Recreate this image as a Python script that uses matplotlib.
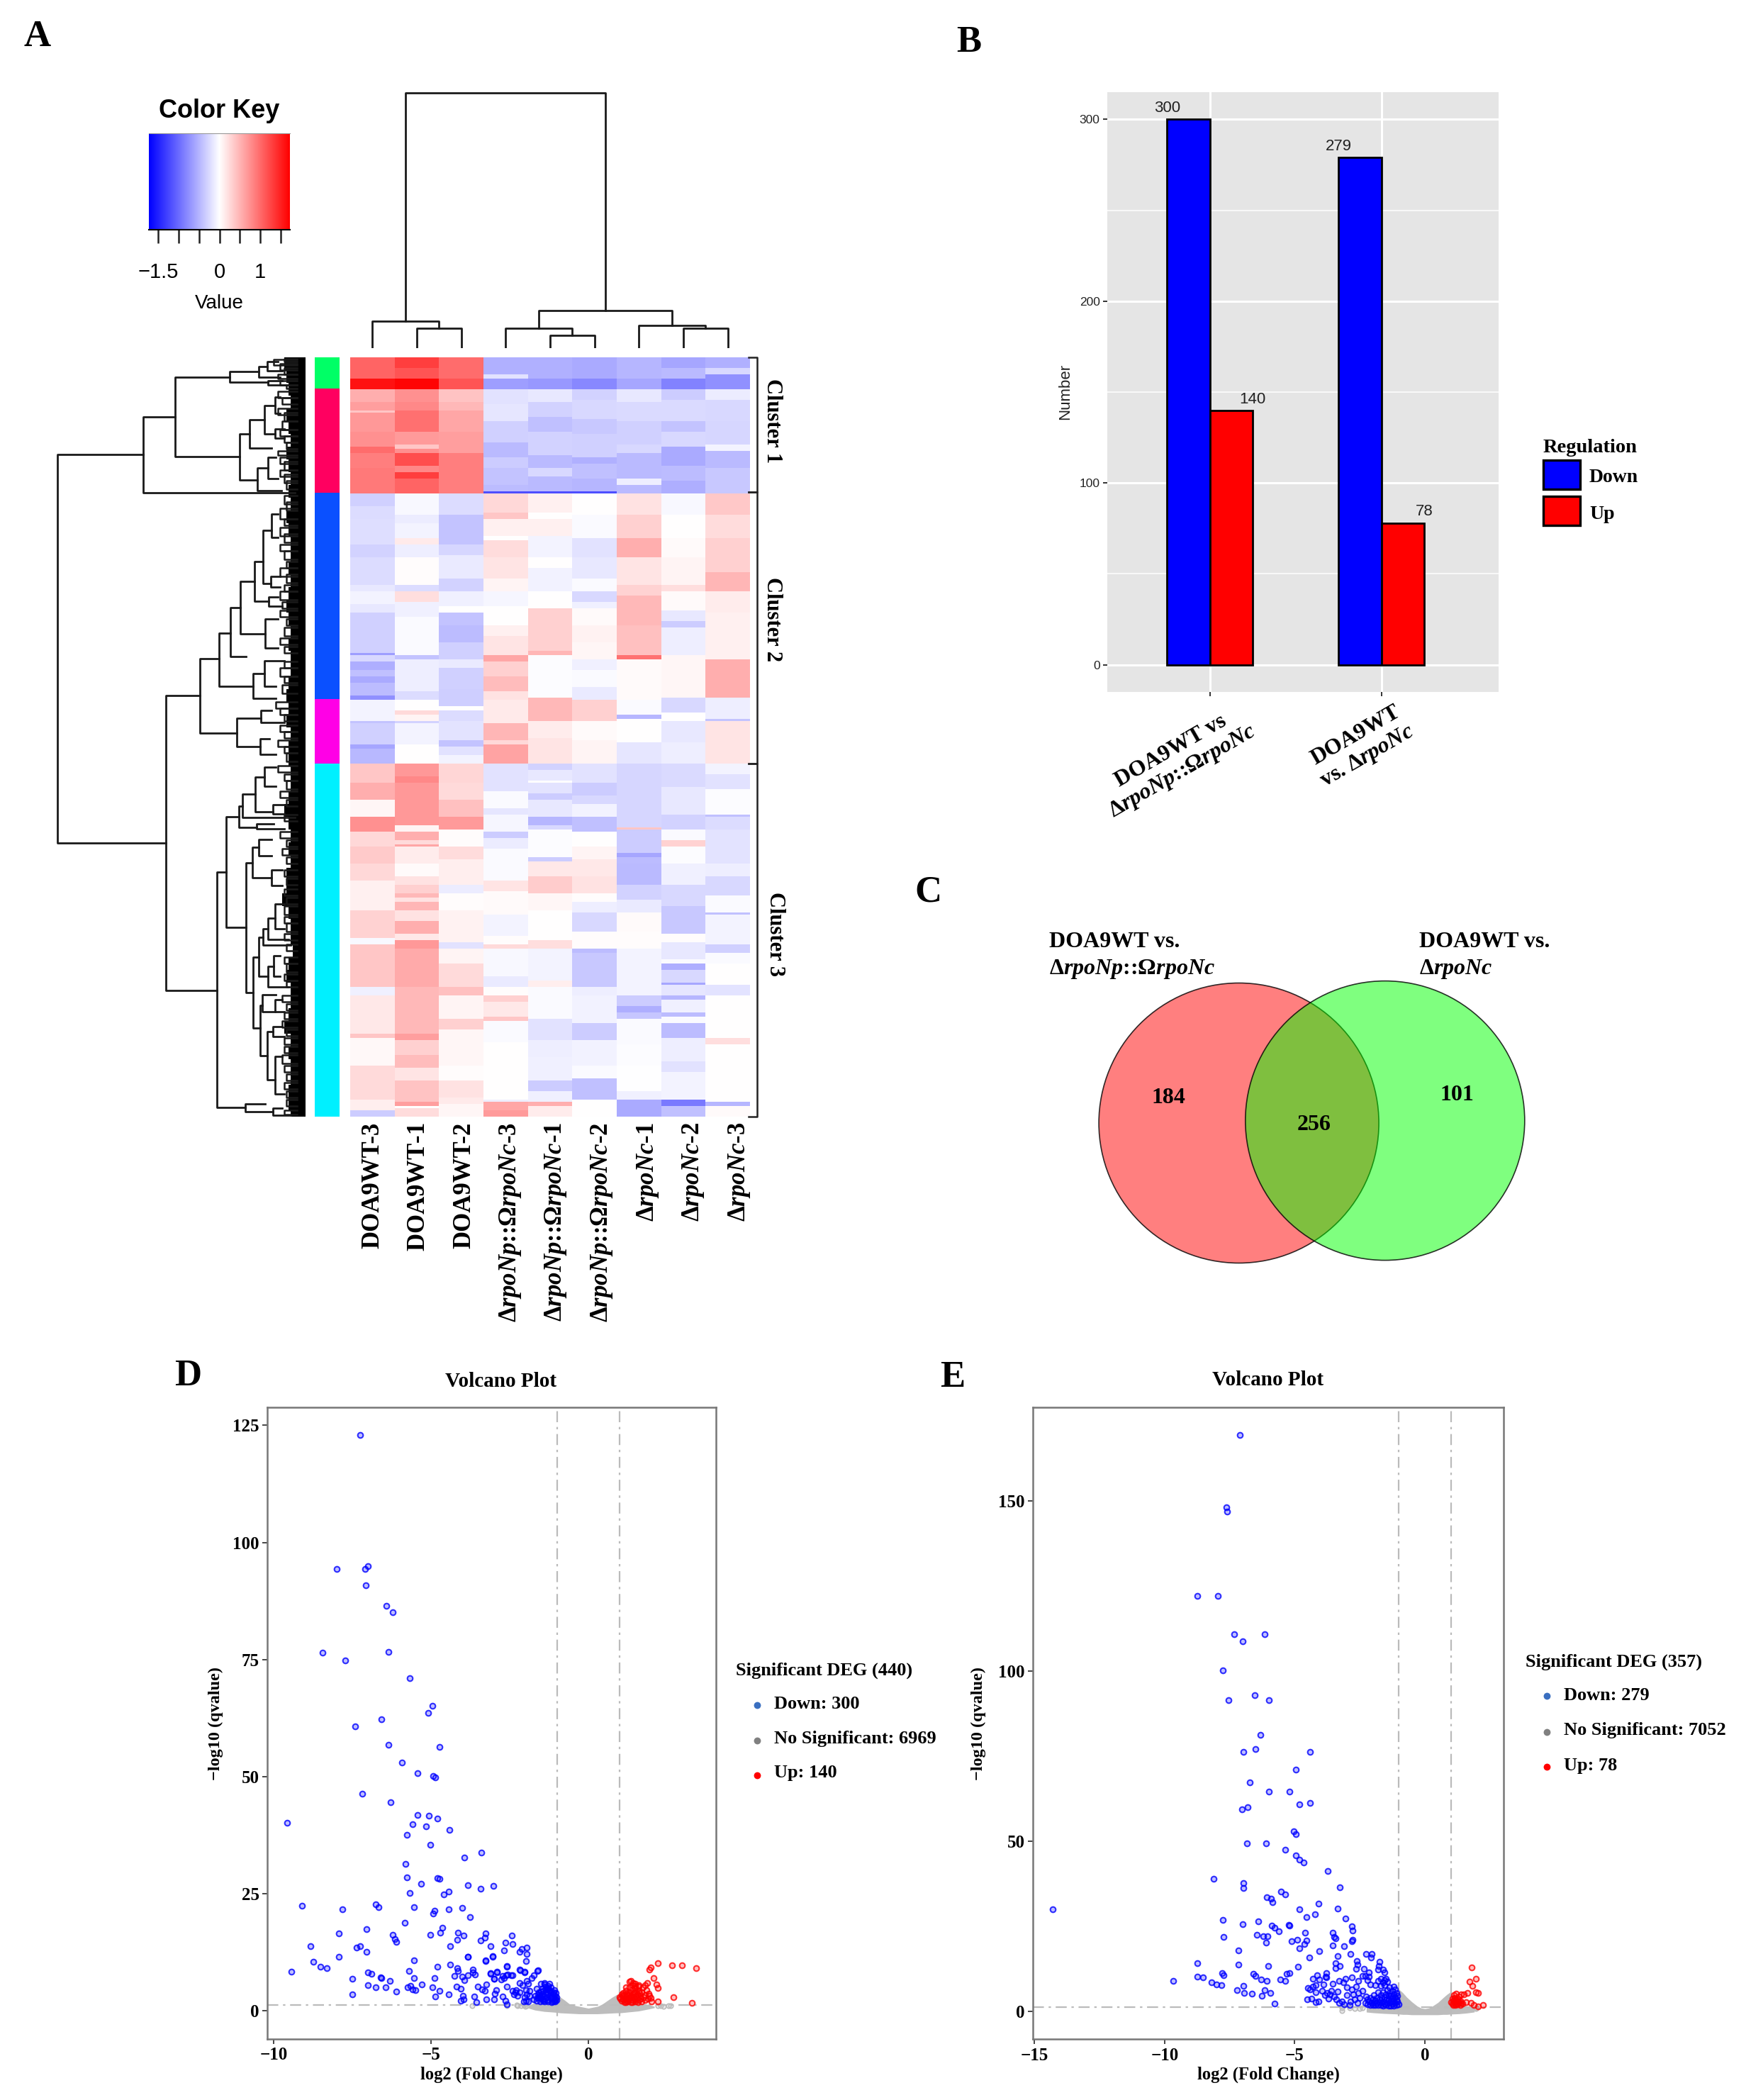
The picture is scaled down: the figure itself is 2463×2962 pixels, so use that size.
import numpy as np
import matplotlib
matplotlib.use('Agg')
import matplotlib.pyplot as plt
from matplotlib.colors import LinearSegmentedColormap
from matplotlib.patches import Circle, Rectangle

plt.rcParams['font.family'] = ['Liberation Serif', 'DejaVu Serif']
plt.rcParams['font.weight'] = 'bold'
plt.rcParams['mathtext.fontset'] = 'custom'
plt.rcParams['mathtext.rm'] = 'Liberation Serif:bold'
plt.rcParams['mathtext.it'] = 'Liberation Serif:italic:bold'
plt.rcParams['mathtext.bf'] = 'Liberation Serif:bold'

W, H = 2463, 2962

# ---- A: heat map, per column runs of (last row, value), 357 rows
heat_doa3 = [(10.4,1.05),(14.7,1.6),(21,.55),(24.6,.65),(26.4,.38),(35,.7),(42,.75),(45,1.0),(51.7,.87),(63.7,.9),
             (70.2,-.32),(76.4,-.24),(87.5,-.22),(88.5,-.45),(93.6,-.3),(107,-.24),(110,-.16),(116,-.08),(120,-.16),(139,-.32),(140.5,-.65),(143,-.27),
             (147,-.55),(150,-.42),(153,-.58),(159,-.45),(161,-.75),(171,-.08),(172,-.4),(182.5,-.32),(184,-.6),(191,-.48),
             (199.8,.38),(207.6,.55),(216,.06),(222.6,.75),(230.4,.27),(238,.36),(246.5,.26),(260,.1),(273,.3),(276.5,-.05),(296,.38),(299.8,-.1),
             (317.6,.15),(320.4,.38),(333,.05),(348.7,.25),(354.2,.12),(357,-.35)]
heat_doa1 = [(5,1.3),(10.4,1.15),(14.7,1.7),(21,.75),(25,.8),(35,.97),(41,.68),(43,.38),(45,.75),(51,1.2),(53.5,.8),(57,1.3),(63.7,1.05),
             (74,-.05),(77.6,-.13),(85,-.08),(87.5,.14),(93.6,-.12),(107,.02),(110,-.24),(115,.22),(122,-.1),(140,-.03),(142,-.4),(157,-.12),(161,-.24),
             (166.4,0),(167.7,.25),(171,.08),(172,-.3),(182.5,-.07),(191,0),
             (197,.7),(200.4,.8),(216,.7),(220.4,.7),(222.6,.08),(227,.55),(228.7,.25),(230.4,.6),(237.6,.13),(244,.03),(247.6,.2),(252,.32),(254,.48),
             (256.5,.2),(260,.5),(265.4,.2),(271,.55),(274.3,.15),(278,.7),(296,.58),(317.6,.48),(321,.65),(327.6,.32),(333.7,.45),(340,.18),(350,.4),
             (351.5,.65),(352.6,0),(357,.24)]
heat_doa2 = [(10.4,1.0),(14.7,1.15),(21,.4),(25,.48),(35,.6),(45,.65),(63.7,.87),
             (74,-.24),(88,-.4),(93,-.28),(103.5,-.14),(110,-.3),(117,-.1),(120,0),(125.7,-.4),(134,-.45),(141.7,-.32),(146,-.14),(156,-.32),(164.5,-.33),
             (166.4,0),(171,-.24),(180,-.18),(183,-.4),(187,-.2),(191,-.08),
             (199.8,.28),(207.6,.25),(216,.42),(222,.68),(230,.02),(236.5,.24),(247.6,.12),(251.5,-.13),(260,.02),(275,.09),(277.6,-.2),(285.4,.08),
             (296,.25),(299.8,.42),(311,.08),(316.5,.32),(333,.06),(340,.02),(347.6,.2),(351,.14),(357,.06)]
heat_np3 = [(8,-.53),(10.4,-.2),(14.7,-.65),(22,-.2),(29.5,-.17),(40,-.32),(47.4,-.47),(51.7,-.35),(60.4,-.4),(62.8,-.45),(63.7,-1.2),
            (72.7,.27),(76.4,.38),(83.8,.1),(85.6,0),(93.6,.24),(103.5,.18),(110,.08),(117,-.06),(125.7,0),(131.3,.1),(140.5,.18),(143,.6),(150.4,.32),
            (156.6,.45),(161,.2),(172,.14),(180,.5),(182.5,.27),(191,.62),
            (203.7,-.2),(211.5,-.03),(214.8,-.17),(222.6,-.06),(226.5,-.35),(231,-.13),(246.5,-.03),(251,.18),(262,.03),(272,-.08),(276.5,.02),(277.6,.25),
            (291,-.05),(296,-.14),(300.4,.02),(303,.32),(310.4,.15),(311.5,.38),(322,-.04),(348.7,0),(350,-.12),(354.2,.6),(357,.68)]
heat_np1 = [(10.4,-.53),(14.7,-.7),(21,-.15),(28.3,-.3),(35,-.42),(40.6,-.3),(46,-.3),(51.7,-.47),(56,-.27),(62.8,-.47),(63.7,-1.2),
            (72.7,.1),(75.8,0),(83.8,.1),(93.6,-.07),(98.6,0),(110,-.09),(117.7,0),(138,.32),(140.5,.5),(160,-.02),(171.3,.48),(178.7,.13),(191,.18),
            (194.3,-.3),(198.7,-.15),(200.4,0),(205.4,-.18),(208,-.35),(216,-.15),(219.8,-.5),(222,-.27),(234.8,-.02),(237,-.35),(243.7,.15),(251.5,.35),
            (260,.06),(274.3,.01),(277.6,.22),(293,-.07),(296.5,.12),(311,-.03),(321,-.2),(328.7,-.12),(340,-.1),(344.8,-.35),(350,-.1),(351.5,.55),(357,.13)]
heat_np2 = [(10.4,-.57),(14.7,-.8),(20,-.3),(28.8,-.27),(35.7,-.37),(46.8,-.32),(50.5,-.53),(56.7,-.42),(62.8,-.5),(63.7,-1.2),
            (74,0),(85,-.04),(93.6,-.2),(103.5,-.15),(110,-.03),(115,-.27),(117.7,-.1),(125.7,.04),(134,.09),(141.7,.06),(147,-.1),(155,-.04),(161,-.14),
            (171.3,.32),(180.5,.03),(191,.07),
            (199.8,-.2),(205.9,-.35),(210,-.27),(216,-.09),(222.6,-.42),(230.4,0),(236.5,.08),(244,.15),(252,.2),(256.5,.02),(261,-.12),(270,-.27),(277.6,.02),
            (279.8,-.45),(296,-.37),(300.4,-.12),(313,-.09),(321,-.35),(333,-.09),(338.7,-.03),(349.3,-.42),(357,.01)]
heat_nc1 = [(10.4,-.5),(14.7,-.6),(21,-.15),(29.5,-.25),(40.6,-.32),(45,-.27),(57,-.47),(60.4,-.12),(63.7,-.47),
            (74,.2),(85,.32),(93.6,.55),(107,.18),(111.5,.3),(126,.48),(140.5,.42),(141.7,.95),(161,.03),(167.7,-.03),(170,-.5),(181,.01),(191,-.17),
            (221,-.28),(222,.38),(227,-.35),(233,-.35),(234.8,-.6),(237.6,-.45),(247.6,-.47),(255.4,-.3),(261,-.14),(270,.03),(277.6,.02),(300,-.07),
            (305.4,-.35),(307.6,-.55),(311,-.38),(322.6,-.03),(333,-.02),(345.4,-.01),(349.3,-.1),(357,-.58)]
heat_nc2 = [(5,-.6),(10.4,-.47),(14.7,-.85),(19.7,-.35),(29.5,-.25),(35,-.4),(42.4,-.27),(51,-.57),(58,-.45),(63.7,-.55),
            (74,-.05),(85,.01),(93.6,.03),(107,.08),(110,.22),(119,.03),(124.5,-.15),(127,-.35),(140.5,-.12),(160,.06),(167,-.27),(171.3,0),(181,-.15),(191,-.12),
            (202,-.25),(215.4,-.15),(222,-.3),(227,-.03),(230.4,.3),(237.6,-.02),(247.6,-.1),(257.6,-.27),(261,-.37),(271,-.37),(275.4,.02),(283,-.15),
            (285.4,-.03),(288,-.55),(293.7,-.27),(295.4,-.6),(300.4,-.17),(302,-.5),(308,-.1),(310.4,-.45),(313,-.04),(320,-.45),(331,-.12),(336.5,-.2),
            (348.7,-.07),(351.5,-.9),(357,-.42)]
heat_nc3 = [(5,-.53),(8,-.27),(14.7,-.75),(20,-.13),(29.5,-.27),(40.6,-.28),(43.7,-.07),(51.7,-.47),(63.7,-.37),
            (74,.37),(85,.24),(101,.32),(110,.5),(120,.13),(141.7,.1),(160,.55),(170,-.12),(171.3,-.4),(191,.18),
            (196.5,-.08),(203,-.2),(215.4,-.02),(216.5,-.42),(222,-.24),(237.6,-.18),(244,-.12),(253,-.27),(261,-.04),(262,-.42),(276,-.07),(280,-.32),
            (285.4,-.04),(295.4,.01),(300,-.18),(320,.01),(323,.22),(350,.01),(351.5,-.5),(357,.03)]
heat_cols = [heat_doa3, heat_doa1, heat_doa2, heat_np3, heat_np1, heat_np2, heat_nc1, heat_nc2, heat_nc3]
n_rows = 357

col_labels = ['DOA9WT-3', 'DOA9WT-$\\mathit{1}$', 'DOA9WT-2',
              'Δ$\\mathit{rpoNp}$::Ω$\\mathit{rpoNc}$-3', 'Δ$\\mathit{rpoNp}$::Ω$\\mathit{rpoNc}$-1', 'Δ$\\mathit{rpoNp}$::Ω$\\mathit{rpoNc}$-2',
              'Δ$\\mathit{rpoNc}$-1', 'Δ$\\mathit{rpoNc}$-2', 'Δ$\\mathit{rpoNc}$-3']

side_ends = [14.7, 63.7, 160.6, 191, 357]
side_colors = ['#00FF66', '#FF0060', '#0A50FF', '#FF00E6', '#00F0FF']

# column tree: (pos a, pos b, height, height a, height b)
col_merges = [(1.5, 2.5, 28, 0, 0), (0.5, 2.0, 38, 0, 28),
              (4.5, 5.5, 18, 0, 0), (3.5, 5.0, 28, 0, 18),
              (7.5, 8.5, 28, 0, 0), (6.5, 8.0, 32, 0, 28),
              (4.25, 7.25, 53.5, 28, 32), (1.25, 5.75, 360.5, 38, 53.5)]

# row tree: (row a, row b, distance, distance a, distance b)
row_merges = [(45.6,228.4,116.7,76.4,65.6),(28.1,63.7,76.4,61.4,5),(9.2,46.7,61.4,35.7,30.9),(6.8,11.8,35.7,22,17.6),
              (4.2,9.2,22,18,12),(2,6.4,18,13,11),(10.9,13.1,17.6,11,9),(35.9,57.6,30.9,26.2,22.8),(29.2,42.8,26.2,19.2,16),
              (22.6,35.9,19.2,14.2,14.2),(18.7,26.4,14.2,12,12),(33.7,38.1,14.2,10,10),(52,62.6,22.8,17.6,11.4),(47,57,17.6,14,13),
              (158.9,297.6,65.6,49.8,41.7),(141.8,176.5,49.8,40.7,32.3),(129.8,154.5,40.7,35.3,24.8),(117.6,140.7,35.3,30.6,28),
              (105.3,130,30.6,23.9,18.9),(95.9,114.8,23.9,20,17.2),(81.4,106.4,20,15.9,16.4),(73.7,84.8,15.9,13,13),(103,108,16.4,12,12),
              (112.6,117,17.2,13,11),(123.1,136.5,18.9,13,13),(148.7,160.4,24.8,19.4,14),(142.6,154.8,19.4,10,14),(169.6,183.1,32.3,20.9,21.4),
              (165.9,171.5,20.9,16,10),(179.3,186.5,21.4,17,14),(242,352.6,41.7,37.2,28.4),(215.9,268.1,37.2,31.4,27.9),(210.9,221.1,31.4,29.8,23.1),
              (205.4,216.3,29.8,23.7,5),(197.4,213.7,23.7,19.4,15.3),(192.6,201.7,19.4,14,14),(210.4,214.8,15.3,10,10),(219.3,221.5,23.1,15,10),
              (237.6,298.7,27.9,25.1,24.8),(230.4,244.8,25.1,22,15.9),(226.5,234.3,22,16,16),(240.9,248.4,15.9,11,11),(282,315.3,24.8,22,21.2),
              (272.6,290.9,22,20,17.6),(268.7,276.4,20,17.6,7),(263.7,273.7,17.6,14.2,8),(257,268.7,14.2,10,10),(286.4,295.9,17.6,15,8),
              (281.4,290.9,15,12,12),(304.8,328.4,21.2,20.3,18.1),(299.8,307.6,20.3,14,14.2),(302,307.6,14.2,11,10),(317,339.6,18.1,15.3,14.2),
              (314.8,319.2,15.3,11,10),(328.7,346.4,14.2,11,10),(350.9,354.6,28.4,19,15.3),(353,356.2,15.3,11,7)]

# small brackets near the leaves: (row a, row b, distance)
row_tips = [(1,3.5,15),(3,6,12),(5,8,10),(8,10,13),(11,13,12),(0.5,2,10),(13,14.5,9),
            (16,19,13),(19,22,11),(24,27,13),(26,30,10),(30,34,11),(34,37,12),(37,40,10),(40,43,9),(47,50,12),(49,53,10),(53,56,12),(55,59,10),(58,62,9),(44,46,13),
            (65,69,10),(68,72,9),(71,76,12),(76,79,10),(80,84,12),(83,87,10),(88,91,12),(91,95,10),(96,99,9),(99,103,12),(102,106,9),(107,110,10),(110,114,12),
            (115,118,11),(119,122,12),(123,126,9),(127,131,10),(132,135,12),(136,139,10),(143,146,10),(146,150,12),(150,153,10),(154,158,11),
            (162,165,14),(165,168,12),(168,171,10),(173,176,12),(176,179,10),(180,183,13),(183,186,10),(186,190,9),
            (192,195,13),(196,199,10),(199,203,9),(204,207,12),(208,211,9),(215,218,10),(223,226,12),(227,230,9),(231,234,11),(235,238,9),(241,244,10),(245,248,9),
            (250,253,10),(254,257,9),(258,262,10),(263,266,10),(266,270,9),(271,274,10),(276,279,9),(282,285,10),(285,289,9),(290,293,10),(293,296,9),(300,303,11),
            (304,307,9),(308,311,10),(312,315,11),(316,319,9),(320,323,10),(324,327,10),(328,332,11),(333,336,10),(337,340,9),(341,344,10),(345,348,9),(349,352,9),(354,356,10)]

# black mass at the leaves, one depth for every 6 rows
comb_depth = [10,9,8,7,9,8,7,9,8,7,8,7,9,8,7,
              7,8,7,8,9,8,7,8,7,7,8,9,8,9,7,
              8,8,7,7,8,10,8,7,8,7,9,9,11,8,7,
              7,6,8,9,7,7,8,10,7,8,7,7,8,8,7]

# ---- B: bar chart
bar_groups = ['DOA9WT vs\nΔ$\\mathit{rpoNp}$::Ω$\\mathit{rpoNc}$', 'DOA9WT\nvs. Δ$\\mathit{rpoNc}$']
bar_down = [300, 279]
bar_up = [140, 78]

# ---- C: venn
venn_counts = {'left': 184, 'both': 256, 'right': 101}

# ---- D: volcano plot points
d_down = [(-7.25,122.9),(-8.0,94.4),(-7.1,94.4),(-7.02,94.9),(-7.07,90.8),(-6.43,86.5),(-6.23,85.1),(-8.46,76.5),(-6.35,76.7),(-7.72,74.8),
          (-5.68,71.1),(-4.96,65.1),(-5.09,63.6),(-6.58,62.2),(-7.42,60.7),(-4.74,56.3),(-6.36,56.8),(-5.92,53),(-5.44,50.7),(-4.94,50.2),(-4.87,49.9),
          (-7.2,46.4),(-6.28,44.6),(-5.42,41.8),(-5.06,41.7),(-4.81,41.0),(-5.59,39.9),(-5.17,39.4),(-9.58,40.2),(-4.41,38.6),(-5.78,37.6),(-5.02,35.4),
          (-3.4,33.8),(-3.95,32.8),(-5.82,31.4),(-5.78,28.5),(-4.79,28.4),(-4.74,28.2),(-5.32,27.2),(-3.82,26.8),(-3.02,26.7),(-3.42,26.1),(-5.68,25.2),
          (-4.45,25.5),(-4.6,24.9),(-9.1,22.4),(-6.76,22.8),(-6.68,22.2),(-5.55,22.1),(-7.83,21.7),(-4.43,21.7),(-4.0,22),(-4.89,21.4),(-4.94,20.8),(-3.77,20),
          (-5.83,18.9),(-4.64,17.7),(-4.72,16.7),(-7.05,17.4),(-5.02,16.2),(-7.93,16.5),(-6.21,16.2),(-6.16,15.3),(-6.1,14.8),(-4.15,16.7),(-3.96,16.1),(-4.18,15.2),
          (-3.27,16.5),(-3.3,15.7),(-3.42,15.1),(-2.43,16.1),(-2.63,14.6),(-2.41,14.3),(-8.84,13.8),(-7.25,13.8),(-7.38,13.5),(-7.05,12.7),(-4.39,13.8),(-3.12,13.8),
          (-1.95,13.6),(-2.11,13.3),(-2.68,13),(-2.18,12.6),(-1.95,12.2),(-3.04,11.6),(-7.93,11.5),(-3.83,11.6),(-5.55,10.8),(-3.27,10.6),(-1.98,10.6),(-8.75,10.5),
          (-4.39,9.9),(-8.52,9.4),(-8.31,9.2),(-4.79,9.4),(-2.59,9.5),(-4.18,9.2),(-4.15,8.6),(-3.67,8.8),(-3.67,8.2),(-9.44,8.4),(-5.71,8.5),(-7.02,8.3),(-6.89,8),
          (-1.62,8.6),(-2.16,8.7),(-2.03,8.3),(-2.91,8.3),(-3.11,8),(-4.26,7.5),(-4.02,7.4),(-3.83,7.6),(-3.6,7.8),(-2.61,7.7),(-2.45,7.6),(-2.69,7.1),(-2.99,6.9),
          (-6.6,7.2),(-6.58,7.1),(-7.5,6.9),(-5.55,7.1),(-6.31,6.4),(-4.89,7),(-7.02,5.5),(-6.75,5),(-6.45,5),(-6.1,4.1),(-5.75,5),(-5.65,5.4),(-5.58,4.6),(-5.5,4.4),
          (-5.3,5.6),(-4.95,5),(-7.5,3.6),(-4.73,4.26),(-4.86,3.1),(-4.43,3.5),(-4.19,5.27),(-3.98,3.25),(-3.96,2.5),(-3.62,3.15),(-3.57,1.9),(-3.51,5.27),(-3.38,4.6),
          (-3.28,4.26),(-3.24,5.67),(-3.24,2.5),(-3.0,2.5),(-2.97,3.75),(-2.93,4.5),(-2.72,3.15),(-2.63,2.25),(-2.59,1.5),(-3.12,8.04),(-2.9,8.45),(-2.99,6.9),
          (-2.72,7.54),(-2.76,6.8),(-2.57,7.8),(-2.42,7.64),(-2.59,5.27),(-2.59,9.66),(-3.27,10.8),(-3.04,11.67),(-3.83,11.57),(-2.18,8.9),(-2.03,8.4),(-1.61,8.7),
          (-1.73,7.64),(-1.8,7),(-2.18,6),(-1.95,6.5),(-2.1,5.5),(-1.91,5.77),(-4.06,4.8),(-3.95,6.6),(-4.05,2.2),
          (-2.40,4.26),(-2.29,4.41),(-2.36,3.5),(-2.25,3.25),(-2.33,4.0),(-2.18,4.0),(-1.99,4.5),(-1.88,4.26),(-1.95,3.5),(-2.03,3.0),(-1.88,3.25),(-1.99,2.25),(-1.91,2),(-2.06,2.1),
          (-1.65,4.77),(-1.5,5.77),(-1.39,6.03),(-1.24,5.77),(-1.58,4),(-1.46,4.77),(-1.35,5.27),(-1.2,5.02),(-1.09,4.5),(-1.69,3.25),(-1.58,3),(-1.46,3.5),(-1.35,4),
          (-1.24,4.26),(-1.13,3.76),(-1.05,3.25),(-1.65,2.25),(-1.54,2),(-1.43,2.5),(-1.31,3),(-1.2,2.75),(-1.09,2.25),(-1.5,2.75),(-1.39,2),(-1.28,2.1),(-1.16,1.9),
          (-1.05,2.5),(-1.01,3),(-1.43,4.26),(-1.31,4.6),(-1.73,2.5),(-1.6,3.6),(-1.5,4.2),(-1.4,3.2),(-1.3,2.4),(-1.2,3.4),(-1.15,2.9),(-1.1,3.0),(-1.05,2.0),(-1.25,4.8),
          (-1.35,4.6),(-1.45,2.2),(-1.55,3.4),(-1.62,2.8),(-1.4,5.6),(-1.2,4.2),(-1.1,4.0),(-1.3,3.7),(-1.5,3.2),(-1.38,2.7),(-1.28,5.3),(-1.12,2.1),(-1.02,2.3),(-1.03,3.8)]
d_up = [(2.215,10.16),(1.99,9.3),(1.94,8.8),(2.67,9.8),(2.98,9.8),(3.42,9.15),(2.07,7.0),(2.16,5.6),(2.21,4.9),(2.7,3),(3.3,1.74),(2.21,2),(1.99,2.75),(1.91,3.75),
        (1.88,6),(1.8,5.5),(1.73,5),(1.61,5.5),(1.5,5.77),(1.35,6.5),(1.43,6),(1.31,6.3),(1.0,3),(1.05,2.2),(1.05,3.5),(1.1,2.5),(1.1,3.9),(1.15,1.9),(1.15,3.1),(1.2,2.3),
        (1.2,4.3),(1.25,3.4),(1.25,2),(1.3,2.8),(1.3,4),(1.35,1.9),(1.35,3.3),(1.4,2.4),(1.4,4.6),(1.45,3),(1.45,3.9),(1.5,2),(1.5,4.9),(1.55,2.8),(1.55,3.6),(1.6,4.3),(1.6,2.3),
        (1.65,3.2),(1.7,4),(1.7,2.1),(1.75,2.9),(1.8,3.4),(1.8,2.3),(1.85,4.5),(1.9,2.6),(1.95,3.2),(2.0,2.0),(1.02,2.6),(1.08,3.2),(1.12,3.4),(1.18,2.7),(1.22,3.7),(1.28,2.4),
        (1.32,3.6),(1.38,2.9),(1.42,3.5),(1.48,2.5),(1.52,3.3),(1.58,1.9),(1.62,3.8),(1.68,2.6),(1.2,1.9),(1.4,1.9),(1.6,5.2),(1.5,4.1),(1.3,5.0),(1.4,5.5),(1.2,5.0),(1.5,5.3)]
d_gray = [(-3.7,1.2),(-2.6,1.1),(-2.28,1.3),(-2.25,1.2),(-2.15,1.1),(-2.05,1.3),(-2.0,1.0),(-1.95,1.1),(2.2,1.1),(2.3,1.2),(2.4,1.0),(2.55,1.2),(2.62,1.1)]
d_band_x = [-1.9,-1.7,-1.4,-1.2,-1.01,-.9,-.75,-.6,-.45,-.3,-.15,0,.15,.3,.45,.6,.75,.9,1.0,1.3,1.6,1.9,2.1]
d_band_hi = [1.2,1.8,1.9,2,3.75,3,2.3,1.5,1.2,1,.8,.6,.8,1,1.5,2.2,2.9,3.5,3.7,2,1.8,1.4,1.0]
d_band_lo = [.6,.2,-.1,-.2,-.3,-.4,-.45,-.5,-.55,-.6,-.6,-.6,-.6,-.6,-.55,-.5,-.45,-.4,-.4,-.2,0,.4,.7]

# ---- E: volcano plot points
e_down = [(-7.12,169.2),(-7.64,148),(-7.6,146.8),(-8.75,122),(-7.96,122.1),(-7.34,110.7),(-6.15,110.8),(-6.99,108.6),(-7.76,100.1),(-6.53,92.8),(-7.56,91.4),(-6.0,91.4),
          (-6.31,81.3),(-6.97,76.3),(-6.51,77),(-4.41,76.3),(-4.95,71.1),(-6.73,67.3),(-6,64.6),(-5.21,64.6),(-4.41,61.3),(-4.83,60.8),(-6.81,60),(-7.03,59.3),(-5.03,52.8),(-4.97,52),
          (-6.85,49.3),(-6.1,49.4),(-5.38,47.5),(-4.97,45.8),(-4.81,44.6),(-4.67,43.7),(-3.74,41.3),(-8.13,39),(-6.98,37.7),(-6.98,36.2),(-3.27,36.5),(-5.54,35.1),(-5.36,34.4),(-6.07,33.5),
          (-5.92,33.2),(-5.86,32),(-4.08,31.7),(-14.3,29.9),(-4.83,29.9),(-3.34,30.1),(-4.22,28.5),(-4.55,27.7),(-3.05,27.2),(-6.39,26.5),(-7.76,26.8),(-6.99,25.6),(-5.24,25.4),(-5.2,25.1),
          (-5.89,25.1),(-5.77,24.6),(-5.6,23.5),(-2.81,24.9),(-2.77,23.7),(-3.54,23.2),(-3.48,21.8),(-3.44,21.5),(-4.61,23.1),(-6.47,22.5),(-6.21,22),(-6.05,22),(-6.09,20.1),(-7.74,21.8),
          (-4.55,20.8),(-4.91,21.1),(-5.12,20.6),(-4.63,19.7),(-4.83,18.6),(-3.54,19.4),(-3.1,19.2),(-2.77,21),(-2.81,20.7),(-7.16,18),(-4.05,17.6),(-2.85,16.9),(-2.27,16.9),(-2.04,16.9),
          (-2.06,15.9),(-3.36,16.2),(-4.45,15.9),(-2.61,14.8),(-2.59,13.7),(-1.74,14.5),(-1.76,13.4),(-8.75,14.2),(-7.16,13.8),(-6.03,13.4),(-4.87,13.1),(-3.42,14.1),(-3.44,12.7),(-3.27,13.4),
          (-2.65,12.5),(-1.8,12.3),(-1.6,12.3),(-1.56,11.5),(-7.79,11.3),(-7.73,10.6),(-6.58,11),(-6.5,10.4),(-5.2,11.3),(-5.32,11),(-3.8,11.3),(-3.82,10.3),(-4.15,10.6),(-4.31,9.6),
          (-8.75,10.3),(-8.53,10),(-2.14,10.3),(-2.41,10.4),(-9.68,9),(-6.29,9.4),(-6.07,9),(-5.56,9.3),(-5.38,8.9),(-1.56,9.2),(-1.7,9.5),(-8.2,8.6),(-8,8),(-7.81,7.7),(-4.05,9.4),(-3.78,9.9),
          (-3.14,8.5),(-2.57,8.9),(-6.98,7.6),(-7.23,6.2),(-6.96,5.5),(-6.64,5.2),(-6.15,6.2),(-5.93,5.5),(-6.27,4.5),(-5.78,2.3),(-4.53,3.5),(-4.19,2.8),
          (-1.0,2),(-1.05,3),(-1.05,4.5),(-1.1,1.8),(-1.1,3.6),(-1.1,5.5),(-1.15,2.5),(-1.15,4.2),(-1.15,6.5),(-1.2,1.7),(-1.2,3.1),(-1.2,5),(-1.2,7.3),(-1.25,2.2),(-1.25,3.9),(-1.25,6),
          (-1.3,1.6),(-1.3,3),(-1.3,4.6),(-1.35,2.4),(-1.35,5.4),(-1.35,7),(-1.4,1.7),(-1.4,3.5),(-1.4,4.5),(-1.45,2.6),(-1.45,6.3),(-1.5,1.8),(-1.5,3.3),(-1.5,5),(-1.55,2.3),(-1.55,4.2),
          (-1.6,1.7),(-1.6,3),(-1.6,5.6),(-1.65,2.6),(-1.65,3.9),(-1.7,1.9),(-1.7,4.7),(-1.75,2.8),(-1.75,3.5),(-1.8,1.8),(-1.8,5.7),(-1.85,2.4),(-1.85,4),(-1.9,1.9),(-1.9,3.2),(-1.95,2.5),
          (-1.95,4.8),(-2,1.8),(-2,3.6),(-2.05,2.6),(-2.1,1.9),(-2.1,3.9),(-2.15,2.9),(-2.2,2),(-2.2,3.6),(-2.25,4.3),(-2.3,2.5),(-1.7,7.5),(-1.6,8.5),(-1.9,7.8),(-1.8,9),(-2.1,8),(-1.5,9.5),
          (-2.2,9.2),(-1.55,7.7),(-1.45,8.8),(-2.4,6),(-2.5,4),(-2.55,5.5),(-2.6,2.5),(-2.65,7.3),(-2.7,3.5),(-2.75,5),(-2.8,6.5),(-2.85,3),(-2.9,1.9),(-3,4.8),(-3.1,2),(-3,7),(-3.2,3),(-3.3,2.4),
          (-3.35,5.9),(-3.4,3.5),(-3.5,4.4),(-3.6,6),(-3.65,5),(-3.7,3.8),(-3.75,5.4),(-3.85,4.8),(-3.95,6),(-4.1,3),(-4.2,5.6),(-4.35,3.8),(-4.4,6.5),(-4.3,7.2),(-4.5,6.8),(-4.2,7.8),(-3.9,8),
          (-3.55,8.2),(-3.3,8.9),(-3.05,9.5),(-2.8,10),(-2.3,10.5),(-2.35,12.5),(-2.15,11.5)]
e_up = [(1.8,13),(1.96,9.6),(1.72,8.7),(1.82,7.5),(1.96,5.6),(1.64,5.4),(2.04,5.5),(2.23,1.8),(2.04,1.4),(1.78,2.4),(1.58,2.8),(1.88,1.8),(1.38,4.9),(1.05,2.2),(1.1,3.1),(1.15,4),(1.2,5.2),
        (1.25,3),(1.2,2.2),(1.25,2),(1.1,1.9),(1.05,3.8),(1.15,2.7),(1.2,3.6),(1.3,2.4),(1.3,4.4),(1.35,3.2),(1.02,2.8),(1.12,4.8),(1.18,1.8),(1.28,3.6),(1.35,1.9),(1.45,2.3),(1.5,5.0),(1.4,2.6)]
e_gray = [(-3.2,1),(-3.2,.3),(-3.15,1.5),(-2.9,1),(-2.7,.9),(-2.5,.8),(-2.4,1.1),(2.0,1),(1.95,.8)]
e_band_x = [-2.25,-2,-1.6,-1.3,-1,-.85,-.7,-.5,-.3,-.15,0,.15,.3,.5,.7,.85,1,1.3,1.6,1.9]
e_band_hi = [1.5,1.7,1.8,2,6.5,5.5,4.2,2.8,1.6,1,.8,1,1.6,2.6,4,5,5.8,2.5,1.6,1.2]
e_band_lo = [-.2,-.4,-.6,-.7,-.8,-.9,-.9,-1,-1,-1,-1,-1,-1,-1,-.9,-.9,-.8,-.7,-.5,-.2]


def px_axes(left, top, right, bottom):
    """建立以像素位置指定的坐标轴"""
    return fig.add_axes([left / W, 1 - bottom / H, (right - left) / W, (bottom - top) / H])


fig = plt.figure(figsize=(W / 100, H / 100), dpi=100, facecolor='white')
key_cmap = LinearSegmentedColormap.from_list('key', ['#0000FF', '#FFFFFF', '#FF0000'])

# 热图
heat = np.zeros((n_rows, len(heat_cols)))
for c, runs in enumerate(heat_cols):
    start = 0
    for end, val in runs:
        heat[start:int(round(end)), c] = val
        start = int(round(end))
ax_heat = px_axes(494, 504, 1058, 1575)
ax_heat.imshow(heat, aspect='auto', cmap=key_cmap, vmin=-1.73, vmax=1.73, interpolation='nearest')
ax_heat.axis('off')

# 侧边颜色条
ax_side = px_axes(444, 504, 479, 1575)
start = 0
for end, col in zip(side_ends, side_colors):
    ax_side.axhspan(start, end, color=col, lw=0)
    start = end
ax_side.set_ylim(n_rows, 0)
ax_side.axis('off')

# 行聚类树
ax_row = px_axes(60, 504, 431, 1575)
ax_row.barh(np.arange(len(comb_depth)) * 6 + 3, comb_depth, height=6.02, color='black', lw=0)
tree_kw = dict(color='#1a1a1a', lw=2.0, solid_capstyle='projecting')
for ra, rb, d, da, db in row_merges:
    ax_row.plot([da, d, d, db], [ra, ra, rb, rb], **tree_kw)
for ra, rb, d in row_tips:
    ax_row.plot([4, d, d, 4], [ra, ra, rb, rb], color='#1a1a1a', lw=1.8)
ax_row.set_xlim(371 / 3, 0)
ax_row.set_ylim(n_rows, 0)
ax_row.axis('off')

# 列聚类树
ax_col = px_axes(494, 130, 1058, 491)
for xa, xb, h, ha, hb in col_merges:
    ax_col.plot([xa, xa, xb, xb], [ha, h, h, hb], **tree_kw)
ax_col.set_xlim(0, 9)
ax_col.set_ylim(0, 361)
ax_col.axis('off')

# Color Key
ax_key = px_axes(210, 188, 409, 324)
ax_key.imshow(np.linspace(-1.73, 1.73, 256).reshape(1, -1), aspect='auto', cmap=key_cmap,
              extent=[-1.73, 1.73, 0, 1], vmin=-1.73, vmax=1.73)
ax_key.set_yticks([])
ax_key.set_xticks([-1.5, -1, -.5, 0, .5, 1, 1.5])
ax_key.set_xticklabels(['−1.5', '', '', '0', '', '1', ''], fontsize=21, family='Liberation Sans', weight='normal')
ax_key.tick_params(axis='x', length=14, width=1.8, pad=19, color='#222222')
for s in ['left', 'right']:
    ax_key.spines[s].set_visible(False)
ax_key.spines['bottom'].set_linewidth(1.5)
ax_key.spines['top'].set_color('#999999')

# B 柱状图
ax_bar = px_axes(1562, 130, 2114, 976)
ax_bar.set_facecolor('#E5E5E5')
bar_pos = np.array([1, 2])
ax_bar.bar(bar_pos - 0.125, bar_down, width=0.25, color='#0000FF', edgecolor='black', lw=2.0, zorder=3)
ax_bar.bar(bar_pos + 0.125, bar_up, width=0.25, color='#FF0000', edgecolor='black', lw=2.0, zorder=3)
for p, v in zip(bar_pos, bar_down):
    ax_bar.text(p - 0.25, v + 2, str(v), ha='center', va='bottom', fontsize=16, family='Liberation Sans', weight='normal', color='#222222', zorder=4)
for p, v in zip(bar_pos, bar_up):
    ax_bar.text(p + 0.25, v + 2, str(v), ha='center', va='bottom', fontsize=16, family='Liberation Sans', weight='normal', color='#222222', zorder=4)
ax_bar.set_xlim(0.402, 2.684)
ax_bar.set_ylim(-15, 315)
ax_bar.set_xticks(bar_pos)
ax_bar.set_xticklabels([])
ax_bar.set_yticks([0, 100, 200, 300])
ax_bar.set_yticks([50, 150, 250], minor=True)
ax_bar.set_yticklabels(['0', '100', '200', '300'], fontsize=12.5, family='Liberation Sans', weight='normal', color='#222222')
ax_bar.grid(True, which='major', color='white', lw=2.2, zorder=1)
ax_bar.grid(True, which='minor', axis='y', color='white', lw=1.1, zorder=1)
ax_bar.set_axisbelow(True)
ax_bar.tick_params(axis='both', which='major', length=4, width=1.4, color='#333333')
ax_bar.tick_params(axis='y', which='minor', length=0)
for s in ax_bar.spines.values():
    s.set_visible(False)


def volcano(box, xlim, ylim, xticks, yticks, down, up, gray, band_x, band_lo, band_hi):
    ax = px_axes(*box)
    ax.fill_between(band_x, band_lo, band_hi, color='#BDBDBD', lw=0, zorder=1)
    gx, gy = zip(*gray)
    ax.scatter(gx, gy, s=22, facecolor=(.74, .74, .74, .3), edgecolor='#BDBDBD', lw=1.2, zorder=1)
    dx, dy = zip(*down)
    ax.scatter(dx, dy, s=30, facecolor=(0, 0, 1, .25), edgecolor=(0, 0, 1, .8), lw=1.5, zorder=3)
    ux, uy = zip(*up)
    ax.scatter(ux, uy, s=30, facecolor=(1, 0, 0, .25), edgecolor=(1, 0, 0, .8), lw=1.5, zorder=3)
    guide = dict(color='#BBBBBB', lw=1.6, ls=(0, (7, 3, 1.5, 3)), zorder=2)
    ax.axvline(-1, **guide)
    ax.axvline(1, **guide)
    ax.axhline(1.3, **guide)
    ax.set_xlim(*xlim)
    ax.set_ylim(*ylim)
    ax.set_xticks(xticks)
    ax.set_yticks(yticks)
    ax.tick_params(axis='both', labelsize=18, length=5, width=1.4, color='#444444', pad=3)
    for s in ax.spines.values():
        s.set_color('#777777')
        s.set_linewidth(1.8)
    return ax


volcano((377, 1984.5, 1009.6, 2876), (-10.21, 4.05), (-5.98, 128.9), [-10, -5, 0], [0, 25, 50, 75, 100, 125],
        d_down, d_up, d_gray, d_band_x, d_band_lo, d_band_hi)
volcano((1456.5, 1984.5, 2121.2, 2876.4), (-15.08, 3.03), (-8.2, 177.5), [-15, -10, -5, 0], [0, 50, 100, 150],
        e_down, e_up, e_gray, e_band_x, e_band_lo, e_band_hi)

# 其余文字和图形放在像素坐标的覆盖层上
ov = fig.add_axes([0, 0, 1, 1], zorder=10)
ov.set_xlim(0, W)
ov.set_ylim(H, 0)
ov.axis('off')
ov.patch.set_alpha(0)

for lab, x, y in [('A', 53, 52), ('B', 1367, 60), ('C', 1309, 1259), ('D', 265, 1941), ('E', 1344, 1943)]:
    ov.text(x, y, lab, fontsize=38, ha='center', va='center')

ov.text(309, 156, 'Color Key', fontsize=26, family='Liberation Sans', ha='center', va='center')
ov.text(309, 428, 'Value', fontsize=20, family='Liberation Sans', weight='normal', ha='center', va='center')

for i, lab in enumerate(col_labels):
    ov.text(526 + i * 64.6, 1583, lab, rotation=90, fontsize=25, ha='center', va='top')

# 聚类括号
for top, bottom in [(504, 694), (694, 1077), (1077, 1575)]:
    ov.plot([1056, 1068, 1068, 1056], [top, top, bottom, bottom], color='#222222', lw=1.8)
ov.text(1090, 594, 'Cluster 1', rotation=-90, fontsize=22, ha='center', va='center')
ov.text(1090, 873, 'Cluster 2', rotation=-90, fontsize=22, ha='center', va='center')
ov.text(1094, 1317, 'Cluster 3', rotation=-90, fontsize=22, ha='center', va='center')

# B 的文字
ov.text(1503, 552, 'Number', rotation=90, fontsize=16, family='Liberation Sans', weight='normal', ha='center', va='center', color='#222222')
ov.text(1660, 1075, bar_groups[0], rotation=30, fontsize=23, ha='center', va='center', multialignment='center', linespacing=1.15)
ov.text(1921, 1053, bar_groups[1], rotation=30, fontsize=23, ha='center', va='center', multialignment='center', linespacing=1.15)
ov.text(2177, 632, 'Regulation', fontsize=20.5, ha='left', va='center')
ov.add_patch(Rectangle((2177, 649), 52, 41, facecolor='#0000FF', edgecolor='black', lw=2.4))
ov.add_patch(Rectangle((2177, 700), 52, 41, facecolor='#FF0000', edgecolor='black', lw=2.4))
ov.text(2242, 674, 'Down', fontsize=20, ha='left', va='center')
ov.text(2242, 726, 'Up', fontsize=20, ha='left', va='center')

# C 韦恩图
ov.add_patch(Circle((1747.6, 1584), 197.5, facecolor=(1, 0, 0, .5), edgecolor=(0, 0, 0, .8), lw=1.2))
ov.add_patch(Circle((1953.8, 1580.6), 197, facecolor=(0, 1, 0, .5), edgecolor=(0, 0, 0, .8), lw=1.2))
ov.text(1479.6, 1328, 'DOA9WT vs.', fontsize=23, ha='left', va='center')
ov.text(1479.6, 1367, 'Δ$\\mathit{rpoNp}$::Ω$\\mathit{rpoNc}$', fontsize=23, ha='left', va='center')
ov.text(2002, 1328, 'DOA9WT vs.', fontsize=23, ha='left', va='center')
ov.text(2002, 1367, 'Δ$\\mathit{rpoNc}$', fontsize=23, ha='left', va='center')
ov.text(1648, 1549, str(venn_counts['left']), fontsize=23, ha='center', va='center')
ov.text(1854, 1587, str(venn_counts['both']), fontsize=23, ha='center', va='center')
ov.text(2055, 1545, str(venn_counts['right']), fontsize=23, ha='center', va='center')

# D, E 的文字
ov.text(706, 1949, 'Volcano Plot', fontsize=21, ha='center', va='center')
ov.text(1788, 1947, 'Volcano Plot', fontsize=21, ha='center', va='center')
ov.text(693, 2926, 'log2 (Fold Change)', fontsize=17.7, ha='center', va='center')
ov.text(1789, 2926, 'log2 (Fold Change)', fontsize=17.7, ha='center', va='center')
ov.text(304, 2431, '−log10 (qvalue)', rotation=90, fontsize=17.5, ha='center', va='center')
ov.text(1380, 2431, '−log10 (qvalue)', rotation=90, fontsize=17.5, ha='center', va='center')

legend_sets = [(1038, 2356, 1068, 1092, 'Significant DEG (440)', ['Down: 300', 'No Significant: 6969', 'Up: 140'], [2405, 2455, 2504], [2404, 2453, 2501]),
               (2152, 2344, 2182, 2206, 'Significant DEG (357)', ['Down: 279', 'No Significant: 7052', 'Up: 78'], [2392, 2443, 2492], [2392, 2441, 2490])]
for tx, ty, mx, lx, title, labs, mys, lys in legend_sets:
    ov.text(tx, ty, title, fontsize=19, ha='left', va='center')
    for lab, my, ly, col in zip(labs, mys, lys, ['#3A6FC0', '#808080', '#FF0000']):
        ov.scatter([mx], [my], s=50, color=col, lw=0)
        ov.text(lx, ly, lab, fontsize=19, ha='left', va='center')

fig.savefig('out.png', dpi=100, facecolor='white')
